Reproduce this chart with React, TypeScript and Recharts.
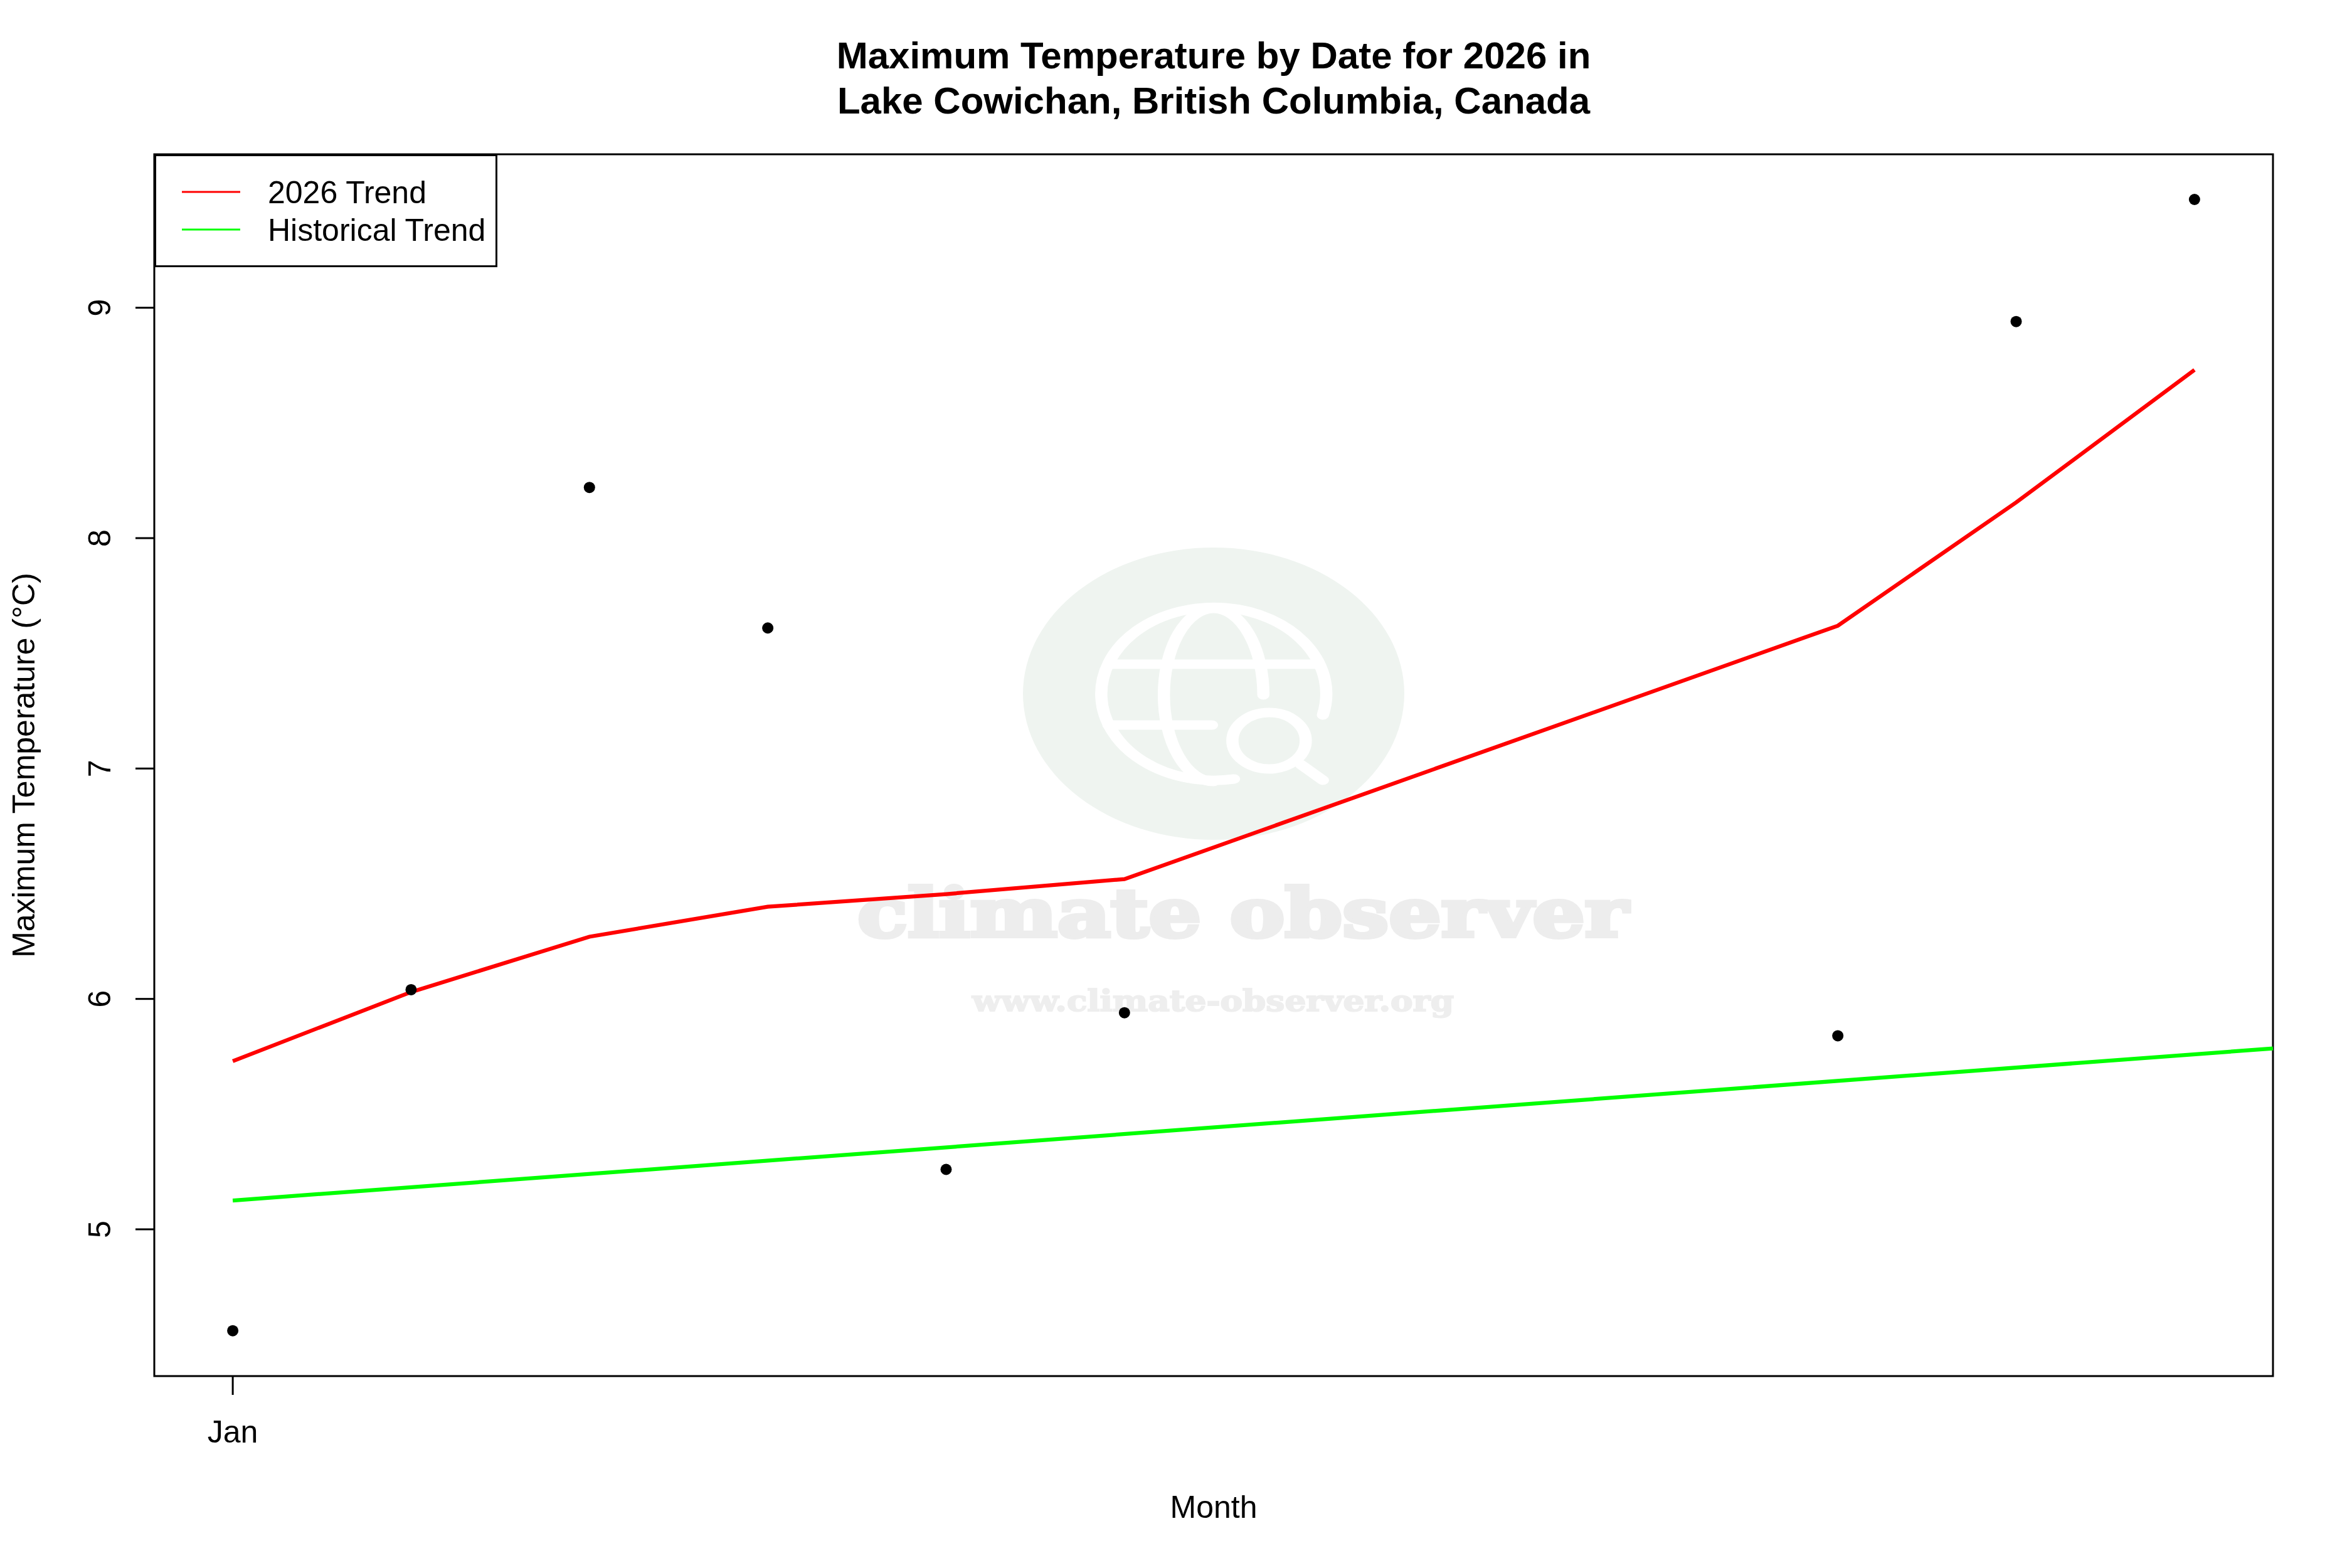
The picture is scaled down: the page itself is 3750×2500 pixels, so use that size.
import {
  ComposedChart,
  Line,
  Scatter,
  XAxis,
  YAxis,
  Legend,
  ReferenceArea,
} from "recharts";

const FONT = '"Liberation Sans", Arial, sans-serif';

const titleLines = [
  "Maximum Temperature by Date for 2026 in",
  "Lake Cowichan, British Columbia, Canada",
];

// x is days since Jan 1
const days = [0, 1, 2, 3, 4, 5, 9, 10, 11];
const observed = [4.56, 6.04, 8.22, 7.61, 5.26, 5.94, 5.84, 8.94, 9.47];
const trend2026 = [5.73, 6.03, 6.27, 6.4, 6.455, 6.52, 7.62, 8.155, 8.73];
const historicalDays = [0, 11.44];
const historicalTrend = [5.125, 5.785];

const legendNames = ["2026 Trend", "Historical Trend"];
const xTicks = [0];
const xTickLabels = ["Jan"];
const yTicks = [5, 6, 7, 8, 9];
const xDomain: [number, number] = [-0.44, 11.44];
const yDomain: [number, number] = [4.363, 9.666];

const observedRows = days.map((day, i) => ({ day, observed: observed[i] }));
const trendRows = days.map((day, i) => ({ day, trend: trend2026[i] }));
const historicalRows = historicalDays.map((day, i) => ({ day, historical: historicalTrend[i] }));

function Watermark() {
  return (
    <svg width={3750} height={2500} style={{ position: "absolute", left: 0, top: 0 }}>
      <ellipse cx={1935} cy={1106} rx={304} ry={233} fill="#eff4f0" />
      <g
        transform="translate(1935 1108) scale(1.3 1)"
        fill="none"
        stroke="#ffffff"
        strokeWidth={15}
        strokeLinecap="round"
      >
        <path d="M134 32 A138 138 0 1 0 25 134" />
        <path d="M61 0 A61 138 0 0 0 -61 0 A61 138 0 0 0 0 138" />
        <path d="M-129 -49 H129" />
        <path d="M-129 48 H-2" />
        <circle cx={68} cy={73} r={45} />
        <path d="M107 111 L134 136" />
      </g>
      <text
        x={1367}
        y={1493}
        fontFamily='"DejaVu Serif", serif'
        fontWeight="bold"
        fontSize={106}
        fill="#ededed"
        stroke="#ededed"
        strokeWidth={6}
        textLength={1229}
        lengthAdjust="spacingAndGlyphs"
      >
        climate observer
      </text>
      <text
        x={1550}
        y={1612}
        fontFamily='"DejaVu Serif", serif'
        fontWeight="bold"
        fontSize={46}
        fill="#eeeeee"
        stroke="#eeeeee"
        strokeWidth={2}
        textLength={768}
        lengthAdjust="spacingAndGlyphs"
      >
        www.climate-observer.org
      </text>
    </svg>
  );
}

function XTick({ x, payload }: any) {
  const label = xTickLabels[xTicks.indexOf(payload.value)];
  return (
    <text x={x} y={2300} textAnchor="middle" fontFamily={FONT} fontSize={50} fill="#000">
      {label}
    </text>
  );
}

function YTick({ y, payload }: any) {
  return (
    <text
      transform={`translate(176 ${y}) rotate(-90)`}
      textAnchor="middle"
      fontFamily={FONT}
      fontSize={50}
      fill="#000"
    >
      {payload.value}
    </text>
  );
}

function LegendBox({ payload }: any) {
  const items = (payload || []).filter((item: any) => legendNames.includes(item.value));
  return (
    <svg width={547} height={180} style={{ display: "block" }}>
      <rect x={1.5} y={1.5} width={544} height={177} fill="#fff" stroke="#000" strokeWidth={3} />
      {items.map((item: any, i: number) => (
        <g key={item.value}>
          <line x1={44} x2={137} y1={60 + i * 60} y2={60 + i * 60} stroke={item.color} strokeWidth={3} />
          <text x={181} y={78 + i * 60} fontFamily={FONT} fontSize={50} fill="#000">
            {item.value}
          </text>
        </g>
      ))}
    </svg>
  );
}

export default function App() {
  return (
    <div style={{ position: "absolute", left: 0, top: 0, width: 3750, height: 2500, background: "#fff" }}>
      <Watermark />
      <div style={{ position: "absolute", left: 0, top: 0 }}>
        <ComposedChart
          width={3750}
          height={2500}
          margin={{ left: 0, right: 126, top: 246, bottom: 0 }}
        >
          {titleLines.map((line, i) => (
            <text
              key={line}
              x={1935}
              y={109 + i * 72}
              textAnchor="middle"
              fontFamily={FONT}
              fontWeight="bold"
              fontSize={60}
              fill="#000"
            >
              {line}
            </text>
          ))}
          <XAxis
            dataKey="day"
            type="number"
            domain={xDomain}
            ticks={xTicks}
            height={306}
            axisLine={false}
            tickSize={30}
            tickLine={{ stroke: "#000", strokeWidth: 3 }}
            tick={<XTick />}
            interval={0}
            label={{
              value: "Month",
              position: "insideBottom",
              offset: 80,
              fontFamily: FONT,
              fontSize: 50,
              fill: "#000",
            }}
          />
          <YAxis
            type="number"
            domain={yDomain}
            ticks={yTicks}
            width={246}
            axisLine={false}
            tickSize={30}
            tickLine={{ stroke: "#000", strokeWidth: 3 }}
            tick={<YTick />}
            interval={0}
            label={{
              value: "Maximum Temperature (°C)",
              angle: -90,
              position: "insideLeft",
              offset: 37,
              textAnchor: "middle",
              fontFamily: FONT,
              fontSize: 50,
              fill: "#000",
            }}
          />
          <ReferenceArea
            x1={xDomain[0]}
            x2={xDomain[1]}
            y1={yDomain[0]}
            y2={yDomain[1]}
            fill="none"
            stroke="#000"
            strokeWidth={3}
            ifOverflow="visible"
          />
          <Line
            data={trendRows}
            dataKey="trend"
            name={legendNames[0]}
            type="linear"
            stroke="#ff0000"
            strokeWidth={6.25}
            dot={false}
            activeDot={false}
            isAnimationActive={false}
          />
          <Line
            data={historicalRows}
            dataKey="historical"
            name={legendNames[1]}
            type="linear"
            stroke="#00ff00"
            strokeWidth={6.25}
            dot={false}
            activeDot={false}
            isAnimationActive={false}
          />
          <Scatter
            data={observedRows}
            dataKey="observed"
            legendType="none"
            fill="#000"
            shape={(props: any) => <circle cx={props.cx} cy={props.cy} r={9} fill="#000" />}
            isAnimationActive={false}
          />
          <Legend
            layout="horizontal"
            verticalAlign="middle"
            content={<LegendBox />}
            wrapperStyle={{ left: 246, top: 246, width: 547, height: 180, right: "auto", bottom: "auto" }}
          />
        </ComposedChart>
      </div>
    </div>
  );
}
